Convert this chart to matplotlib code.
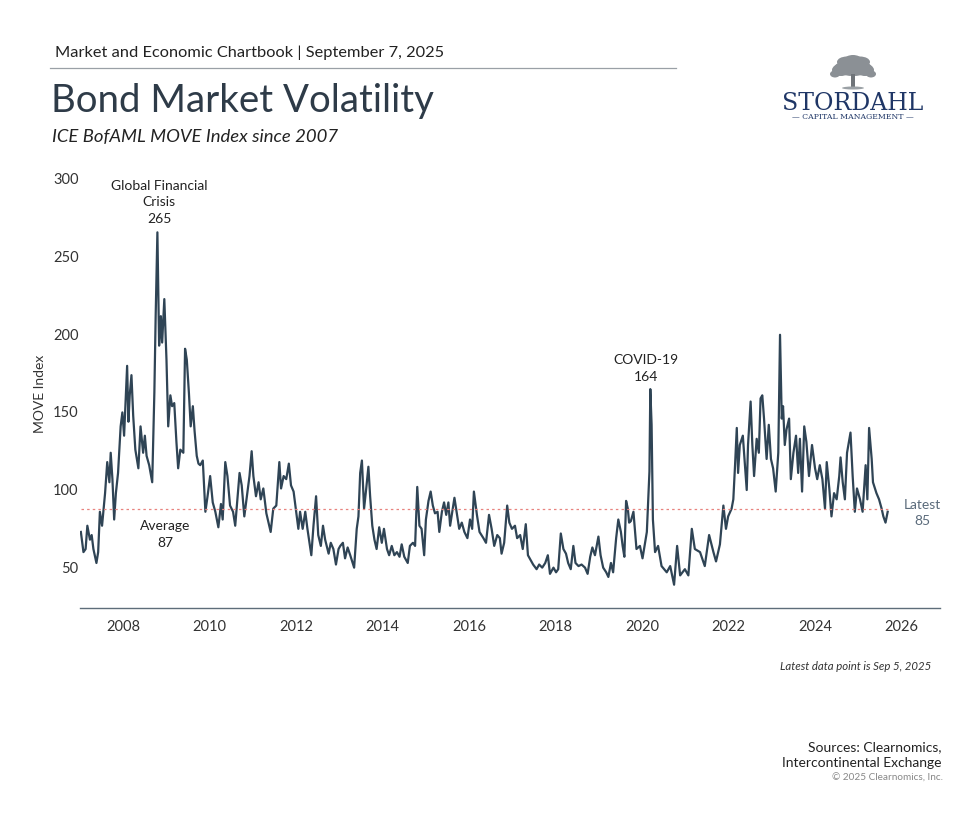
import matplotlib
matplotlib.use("Agg")
import matplotlib.pyplot as plt
from matplotlib.patches import Ellipse, Rectangle
from matplotlib.lines import Line2D

plt.rcParams['font.family'] = ['Lato', 'DejaVu Sans']

# ---- data (decimal year, MOVE index) ----
years_2007_2009 = [
    2007.02, 2007.08, 2007.13, 2007.17, 2007.23, 2007.27, 2007.31, 2007.38, 2007.42, 2007.46,
    2007.51, 2007.58, 2007.63, 2007.68, 2007.71, 2007.75, 2007.79, 2007.83, 2007.88, 2007.94,
    2007.98,
    2008.02, 2008.09, 2008.12, 2008.15, 2008.19, 2008.23, 2008.28, 2008.35, 2008.40, 2008.46,
    2008.50, 2008.54, 2008.60, 2008.67, 2008.72, 2008.75, 2008.79, 2008.83, 2008.87, 2008.90,
    2008.95,
    2009.00, 2009.04, 2009.09, 2009.13, 2009.18, 2009.23, 2009.27, 2009.32, 2009.39, 2009.43,
    2009.47,
]
move_2007_2009 = [
    72, 59, 61, 76, 67, 70, 61, 52, 59, 85,
    76, 97, 117, 104, 123, 106, 80, 97, 110, 140,
    149,
    134, 179, 143, 160, 173, 147, 125, 113, 140, 123,
    134, 121, 115, 104, 162, 211, 265, 192, 211, 194,
    222,
    183, 140, 160, 153, 155, 130, 113, 125, 123, 190,
    183,
]
years_2009_2012 = [
    2009.52, 2009.56, 2009.61, 2009.65, 2009.70, 2009.74, 2009.78, 2009.84, 2009.90, 2009.95,
    2010.01, 2010.07, 2010.13, 2010.20, 2010.26, 2010.30, 2010.36, 2010.41, 2010.47, 2010.54,
    2010.59, 2010.64, 2010.69, 2010.74, 2010.80, 2010.86, 2010.92, 2010.97,
    2011.01, 2011.07, 2011.13, 2011.18, 2011.24, 2011.31, 2011.36, 2011.41, 2011.47, 2011.54,
    2011.61, 2011.65, 2011.71, 2011.77, 2011.83, 2011.88, 2011.94,
    2012.00, 2012.05, 2012.09, 2012.15, 2012.21, 2012.26, 2012.35, 2012.40, 2012.46, 2012.51,
    2012.57, 2012.62, 2012.67, 2012.75, 2012.80, 2012.86, 2012.92, 2012.98,
]
move_2009_2012 = [
    161, 140, 153, 137, 121, 116, 115, 118, 85, 95,
    108, 91, 85, 75, 90, 80, 117, 108, 89, 85,
    76, 93, 110, 102, 82, 95, 108, 124,
    108, 95, 104, 93, 100, 84, 78, 72, 87, 89,
    117, 100, 108, 106, 116, 102, 98,
    85, 74, 85, 74, 85, 74, 57, 76, 95, 70,
    63, 76, 67, 58, 65, 61, 51, 61,
]
years_2013_2016 = [
    2013.02, 2013.08, 2013.13, 2013.19, 2013.25, 2013.34, 2013.40, 2013.44, 2013.48, 2013.52,
    2013.57, 2013.62, 2013.67, 2013.71, 2013.76, 2013.81, 2013.86, 2013.92, 2013.98,
    2014.03, 2014.10, 2014.15, 2014.21, 2014.27, 2014.33, 2014.39, 2014.44, 2014.50, 2014.58,
    2014.63, 2014.70, 2014.75, 2014.80, 2014.85, 2014.90, 2014.96,
    2015.00, 2015.06, 2015.11, 2015.16, 2015.21, 2015.27, 2015.31, 2015.37, 2015.42, 2015.47,
    2015.52, 2015.56, 2015.62, 2015.66, 2015.71, 2015.77, 2015.83, 2015.89, 2015.96,
    2016.02, 2016.07, 2016.11, 2016.18, 2016.24,
]
move_2013_2016 = [
    63, 65, 55, 62, 57, 49, 74, 82, 110, 118,
    87, 100, 114, 95, 76, 67, 61, 75, 65,
    74, 61, 57, 63, 57, 59, 56, 64, 56, 52,
    63, 65, 63, 101, 76, 74, 57,
    80, 92, 98, 89, 84, 85, 72, 85, 91, 83,
    91, 76, 87, 94, 85, 74, 78, 72, 68,
    80, 74, 98, 83, 72,
]
years_2016_2019 = [
    2016.33, 2016.39, 2016.46, 2016.52, 2016.58, 2016.65, 2016.71, 2016.75, 2016.81, 2016.88,
    2016.93, 2016.99,
    2017.06, 2017.11, 2017.18, 2017.24, 2017.31, 2017.36, 2017.42, 2017.48, 2017.56, 2017.62,
    2017.69, 2017.76, 2017.82, 2017.87, 2017.95,
    2018.01, 2018.06, 2018.12, 2018.18, 2018.24, 2018.29, 2018.35, 2018.41, 2018.46, 2018.53,
    2018.60, 2018.68, 2018.74, 2018.80, 2018.85, 2018.91, 2018.99,
    2019.04, 2019.10, 2019.17, 2019.22, 2019.28, 2019.33, 2019.40, 2019.45, 2019.51, 2019.55,
    2019.59, 2019.63, 2019.67, 2019.70,
]
move_2016_2019 = [
    68, 65, 83, 74, 63, 70, 68, 58, 65, 89,
    78, 74,
    76, 68, 70, 61, 77, 57, 54, 51, 48, 51,
    49, 52, 57, 45, 49,
    46, 48, 71, 61, 58, 52, 48, 63, 52, 50,
    51, 49, 45, 56, 62, 57, 69,
    57, 49, 46, 43, 52, 46, 68, 80, 72, 63,
    56, 92, 87, 78,
]
years_2019_2021 = [
    2019.74, 2019.80, 2019.87, 2019.95,
    2020.01, 2020.11, 2020.17, 2020.19, 2020.22, 2020.25, 2020.30, 2020.37, 2020.45, 2020.57,
    2020.65, 2020.74, 2020.81, 2020.88, 2020.99,
    2021.07, 2021.15, 2021.22, 2021.34, 2021.45, 2021.55, 2021.65, 2021.71,
]
move_2019_2021 = [
    79, 85, 61, 63,
    55, 72, 111, 164, 141, 80, 59, 63, 50, 46,
    50, 38, 63, 44, 48,
    44, 74, 61, 59, 50, 70, 59, 53,
]
years_2021_2025 = [
    2021.80, 2021.88, 2021.94, 2021.99,
    2022.07, 2022.11, 2022.15, 2022.19, 2022.22, 2022.26, 2022.33, 2022.38, 2022.42, 2022.45,
    2022.51, 2022.55, 2022.59, 2022.65, 2022.70, 2022.74, 2022.78, 2022.82, 2022.88, 2022.93,
    2022.98,
    2023.03, 2023.09, 2023.15, 2023.19, 2023.23, 2023.26, 2023.30, 2023.34, 2023.40, 2023.44,
    2023.50, 2023.56, 2023.61, 2023.65, 2023.70, 2023.75, 2023.80, 2023.86, 2023.93,
    2024.00, 2024.05, 2024.11, 2024.17, 2024.23, 2024.27, 2024.33, 2024.38, 2024.44, 2024.50,
    2024.56, 2024.59, 2024.64, 2024.69, 2024.74, 2024.82, 2024.87, 2024.92, 2024.97,
    2025.04, 2025.10, 2025.17, 2025.21, 2025.25, 2025.31, 2025.34, 2025.42, 2025.48, 2025.54,
    2025.58, 2025.63, 2025.68,
]
move_2021_2025 = [
    64, 89, 74, 82,
    87, 93, 115, 139, 110, 128, 134, 115, 99, 128,
    156, 128, 108, 132, 123, 158, 160, 145, 119, 141,
    119,
    113, 98, 123, 199, 145, 153, 128, 138, 145, 106,
    123, 134, 110, 132, 98, 140, 130, 108, 128,
    113, 106, 115, 106, 87, 117, 100, 82, 97, 93,
    108, 120, 104, 93, 123, 136, 108, 85, 100,
    93, 85, 115, 93, 139, 119, 104, 97, 93, 87,
    82, 78, 85,
]
average_value = 87
latest_value = 85
x_ticks = [2008, 2010, 2012, 2014, 2016, 2018, 2020, 2022, 2024, 2026]
y_ticks = [50, 100, 150, 200, 250, 300]

years = (years_2007_2009 + years_2009_2012 + years_2013_2016 + years_2016_2019
         + years_2019_2021 + years_2021_2025)
move = (move_2007_2009 + move_2009_2012 + move_2013_2016 + move_2016_2019
        + move_2019_2021 + move_2021_2025)
assert len(years) == len(move)

W, H = 966, 820
fig = plt.figure(figsize=(W / 100, H / 100), dpi=100)


def fx(px):
    return px / W


def fy(py):
    return 1 - py / H


line_color = '#2f4455'
text_dark = '#222222'
slate = '#5b6b7b'

# ---- header ----
fig.text(fx(55), fy(53), 'Market and Economic Chartbook | September 7, 2025',
         fontsize=11.8, color=text_dark, va='center', ha='left')
fig.add_artist(Line2D([fx(50), fx(676)], [fy(69), fy(69)], color='#9aa0a6', lw=0.9))
fig.text(fx(51), fy(101), 'Bond Market Volatility', fontsize=27.6, color='#2e3b48',
         va='center', ha='left')
fig.text(fx(52), fy(137), 'ICE BofAML MOVE Index since 2007', fontsize=13.3,
         style='italic', color=text_dark, va='center', ha='left')

# ---- logo ----
lax = fig.add_axes([fx(820), fy(93), fx(66), 1 - fy(93) - (1 - fy(55))])
lax.set_xlim(0, 66)
lax.set_ylim(0, 38)
lax.axis('off')
tree_col = '#8b9095'
for (cx, cy, w, h) in [(33, 24, 38, 16), (21, 22, 18, 12), (45, 22, 18, 12),
                       (27, 30, 20, 11), (40, 30, 20, 11), (33, 33, 16, 8),
                       (15, 18, 10, 7), (51, 18, 10, 7)]:
    lax.add_patch(Ellipse((cx, cy), w, h, color=tree_col, lw=0))
lax.add_patch(Rectangle((31, 4), 4, 14, color='#6f7479', lw=0))
lax.add_patch(Ellipse((33, 4), 22, 3, color='#9aa0a5', lw=0))
fig.text(fx(853), fy(103), 'STORDAHL', fontsize=17, family='DejaVu Serif',
         color='#1f3666', ha='center', va='center')
fig.text(fx(853), fy(117), '— CAPITAL MANAGEMENT —', fontsize=5.6, family='DejaVu Serif',
         color='#1f3666', ha='center', va='center')

# ---- main chart ----
ax_l, ax_r, ax_t, ax_b = 80, 940, 179, 609
ax = fig.add_axes([fx(ax_l), fy(ax_b), fx(ax_r - ax_l), fy(ax_t) - fy(ax_b)])
ax.plot(years, move, color=line_color, lw=1.6, solid_joinstyle='round')
ax.plot([years[0], years[-1]], [average_value, average_value], color='#e8837f',
        lw=0.9, ls=(0, (2, 2.5)))
ax.set_xlim(2007.0, 2026.89)
ax.set_ylim(23, 300)
ax.set_xticks(x_ticks)
ax.set_yticks(y_ticks)
ax.tick_params(axis='both', length=0, labelsize=10.5, labelcolor='#333333')
ax.tick_params(axis='y', pad=1)
ax.tick_params(axis='x', pad=8)
for s in ['top', 'right', 'left']:
    ax.spines[s].set_visible(False)
ax.spines['bottom'].set_color('#5e6d7a')
ax.spines['bottom'].set_linewidth(1.0)
ax.set_ylabel('MOVE Index', fontsize=10, color='#333333', labelpad=5)

# annotations (data coordinates)
ax.text(2008.83, 285, 'Global Financial\nCrisis\n' + str(max(move)), ha='center',
        va='center', fontsize=10, color=text_dark, linespacing=1.45)
ax.text(2008.98, 71, 'Average\n' + str(average_value), ha='center', va='center',
        fontsize=10, color=text_dark, linespacing=1.45)
covid_i = years.index(2020.19)
ax.text(2020.1, 178, 'COVID-19\n' + str(move[covid_i]), ha='center', va='center',
        fontsize=10, color=text_dark, linespacing=1.45)
ax.text(2026.48, 85, 'Latest\n' + str(latest_value), ha='center', va='center',
        fontsize=10, color=slate, linespacing=1.45)

# ---- footer ----
fig.text(fx(931), fy(667), 'Latest data point is Sep 5, 2025', fontsize=8.2,
         style='italic', color='#333333', ha='right', va='center')
fig.text(fx(941), fy(755), 'Sources: Clearnomics,\nIntercontinental Exchange', fontsize=10,
         color=text_dark, ha='right', va='center', linespacing=1.4)
fig.text(fx(943), fy(778), '© 2025 Clearnomics, Inc.', fontsize=7.2,
         color='#888888', ha='right', va='center')

fig.savefig('out.png', dpi=100)
